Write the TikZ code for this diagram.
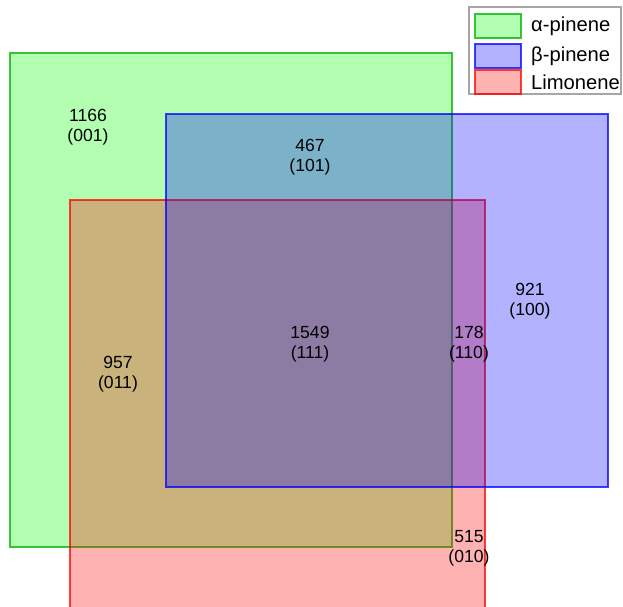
\documentclass[tikz,border=0pt]{standalone}
\usepackage{fontspec}
\setmainfont{Liberation Sans}
\usetikzlibrary{positioning}
\definecolor{setA}{RGB}{0,255,0}
\definecolor{setB}{RGB}{0,0,255}
\definecolor{setC}{RGB}{255,0,0}
\definecolor{edgeA}{RGB}{0,175,0}
\tikzset{
  setbox/.style={fill=#1, fill opacity=0.3, draw=#1, draw opacity=0.75, line width=1.4pt},
  count/.style={align=center, font=\fontsize{10}{11.3}\selectfont, inner sep=0pt},
  swatch/.style={fill=#1, fill opacity=0.3, draw=#1, draw opacity=0.75, line width=1.2pt, minimum width=0.92cm, minimum height=0.48cm, inner sep=0pt},
  legtext/.style={font=\fontsize{11.5}{14}\selectfont, inner sep=0pt, anchor=west}
}
\begin{document}
\begin{tikzpicture}[x=0.02cm, y=-0.02cm]
  \useasboundingbox (0,0) rectangle (623,607);

  % the three sets
  \coordinate (ATL) at (10,53);   \coordinate (ABR) at (452,547);
  \coordinate (BTL) at (166,114); \coordinate (BBR) at (608,487);
  \coordinate (CTL) at (70,200);  \coordinate (CBR) at (485,612);
  \begin{scope}
    \clip (0,0) rectangle (623,607);
    \draw[setbox=setA, draw=edgeA] (ATL) rectangle (ABR);
    \draw[setbox=setC] (CTL) rectangle (CBR);
    \draw[setbox=setB] (BTL) rectangle (BBR);
  \end{scope}

  % region counts
  \node[count] (R001) at (88,127)  {1166\\(001)};
  \node[count] (R101) at (310,157) {467\\(101)};
  \node[count] (R100) at (530,301) {921\\(100)};
  \node[count] (R111) at (310,344) {1549\\(111)};
  \node[count] (R110) at (469,344) {178\\(110)};
  \node[count] (R011) at (118,374) {957\\(011)};
  \node[count] (R010) at (469,548) {515\\(010)};

  % legend
  \draw[gray!70, line width=0.8pt, fill=white] (469,7) rectangle (621,94);
  \node[swatch=setA, draw=edgeA] (keyA) at (498,26) {};
  \node[swatch=setB] (keyB) at (498,56) {};
  \node[swatch=setC] (keyC) at (498,82) {};
  \node[legtext, right=5pt of keyA] (labA) {α-pinene};
  \node[legtext, right=5pt of keyB] (labB) {β-pinene};
  \node[legtext, right=5pt of keyC] (labC) {Limonene};
\end{tikzpicture}
\end{document}
